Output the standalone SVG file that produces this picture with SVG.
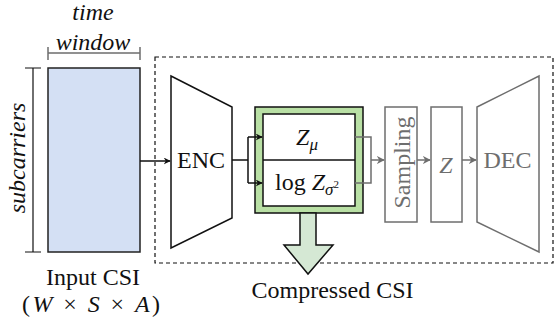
<svg xmlns="http://www.w3.org/2000/svg" width="555" height="324" viewBox="0 0 555 324">
<defs>
<style>
.it{font-style:italic}
.g{fill:#6e6e6e}
.ln{stroke:#111;stroke-width:1.5;fill:none}
.gl{stroke:#6e6e6e;stroke-width:1.5;fill:none}
</style>
<marker id="ab" viewBox="0 0 10 10" refX="9" refY="5" markerWidth="7" markerHeight="7" markerUnits="userSpaceOnUse" orient="auto"><path d="M0,0 L10,5 L0,10 L3,5 z" fill="#111"/></marker>
<marker id="ag" viewBox="0 0 10 10" refX="9" refY="5" markerWidth="8" markerHeight="8" markerUnits="userSpaceOnUse" orient="auto"><path d="M0,0 L10,5 L0,10 L3,5 z" fill="#6e6e6e"/></marker>
</defs>
<g font-family="Liberation Serif" fill="#111">
<rect x="155" y="57" width="398" height="206" fill="none" stroke="#111" stroke-width="1.2" stroke-dasharray="4,3"/>
<g id="input">
<rect x="48" y="68" width="92" height="184" fill="#d4e0f4" stroke="#222" stroke-width="1.5"/>
<path class="gl" d="M48,53 H140 M48,47 V60 M140,47 V60"/>
<text class="it" x="93" y="20" font-size="24" text-anchor="middle">time</text>
<text class="it" x="93" y="50" font-size="24" text-anchor="middle">window</text>
<path d="M33,68 V252 M25,68 H41 M25,252 H41" stroke="#111" stroke-width="1.2" fill="none"/>
<text class="it" transform="translate(25,158) rotate(-90)" font-size="24" text-anchor="middle">subcarriers</text>
<text x="93" y="285" font-size="24" text-anchor="middle">Input CSI</text>
<text x="91" y="312" font-size="24" text-anchor="middle" textLength="138" lengthAdjust="spacing">(<tspan class="it">W</tspan> × <tspan class="it">S</tspan> × <tspan class="it">A</tspan>)</text>
</g>
<g id="enc">
<path d="M171,76 L232,107 L232,218 L171,248 Z" fill="#fff" stroke="#111" stroke-width="1.5"/>
<text x="201" y="168" font-size="24" text-anchor="middle">ENC</text>
</g>
<g id="latent">
<rect x="255" y="107" width="108" height="106" fill="#b9e0a5" stroke="#111" stroke-width="1.5"/>
<rect x="263" y="114" width="92" height="92" fill="#fff" stroke="#111" stroke-width="1.5"/>
<line x1="263" y1="160" x2="355" y2="160" stroke="#111" stroke-width="1.5"/>
<text x="307" y="145" font-size="24" text-anchor="middle"><tspan class="it">Z</tspan><tspan class="it" font-size="17" dy="5">μ</tspan></text>
<text x="307" y="190" font-size="24" text-anchor="middle">log <tspan class="it">Z</tspan><tspan class="it" font-size="17" dy="5">σ</tspan><tspan font-size="11" dy="-7">2</tspan></text>
</g>
<g id="sampling">
<rect x="385" y="107" width="32" height="115" fill="#fff" stroke="#6e6e6e" stroke-width="1.5"/>
<text class="g" transform="translate(410,162.5) rotate(-90)" font-size="24" text-anchor="middle">Sampling</text>
</g>
<g id="z">
<rect x="431" y="107" width="31" height="115" fill="#fff" stroke="#6e6e6e" stroke-width="1.5"/>
<text class="it g" x="446" y="173" font-size="24" text-anchor="middle">Z</text>
</g>
<g id="dec">
<path d="M477,107 L539,76 L539,252 L477,222 Z" fill="#fff" stroke="#6e6e6e" stroke-width="1.5"/>
<text class="g" x="507.5" y="168" font-size="24" text-anchor="middle">DEC</text>
</g>
<g id="compressed">
<path d="M300,213 V245 H284 L308,274 L333,245 H316 V213 Z" fill="#d5e8d4" stroke="#111" stroke-width="1.5"/>
<text x="332.5" y="298" font-size="24" text-anchor="middle">Compressed CSI</text>
</g>
<g id="connectors">
<line class="ln" x1="140" y1="161" x2="170" y2="161" marker-end="url(#ab)"/>
<path class="ln" d="M232,160 H248 M248,137 V183"/>
<line class="ln" x1="248" y1="137" x2="262" y2="137" marker-end="url(#ab)"/>
<line class="ln" x1="248" y1="183" x2="262" y2="183" marker-end="url(#ab)"/>
<path class="gl" d="M355,137 H371 V183 H355"/>
<line class="gl" x1="371" y1="160" x2="384" y2="160" marker-end="url(#ag)"/>
<line class="gl" x1="417" y1="160" x2="430" y2="160" marker-end="url(#ag)"/>
<line class="gl" x1="462" y1="160" x2="476" y2="160" marker-end="url(#ag)"/>
</g>
</g>
</svg>
